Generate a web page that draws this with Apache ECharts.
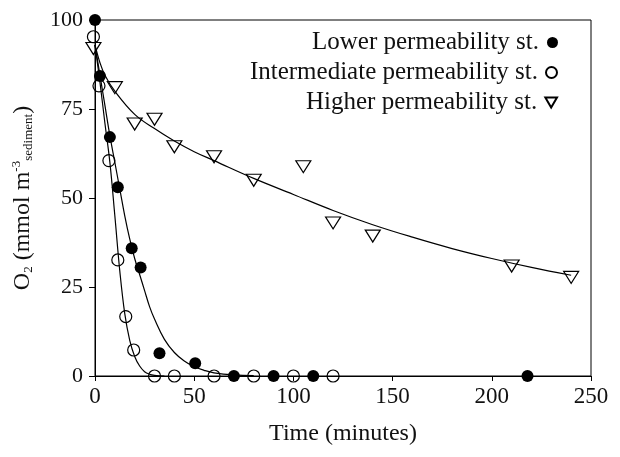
<!DOCTYPE html>
<html>
<head>
<meta charset="utf-8">
<script src="https://cdn.jsdelivr.net/npm/echarts@6/dist/echarts.min.js"></script>
<style>
  html, body { margin: 0; padding: 0; background: #fff; }
  #chart { width: 620px; height: 457px; }
</style>
</head>
<body>
<div id="chart"></div>
<script>
// measured points
const lowerT = [0, 2.5, 7.5, 11.5, 18.5, 23, 32.5, 50.5, 70, 90, 110, 218];
const lowerO2 = [100, 84.3, 67.1, 53, 35.9, 30.5, 6.4, 3.6, 0, 0, 0, 0];
const interT = [-0.8, 2, 7, 11.5, 15.5, 19.5, 30, 40, 60, 80, 100, 120];
const interO2 = [95.3, 81.5, 60.5, 32.6, 16.7, 7.3, 0, 0, 0, 0, 0, 0];
const higherT = [-0.8, 10, 20, 30, 40, 60, 80, 105, 120, 140, 210, 240];
const higherO2 = [92, 81, 70.8, 72.1, 64.4, 61.6, 55, 58.8, 43, 39.3, 30.9, 27.7];

// fitted curves
const fitLowerT = [0, 2.5, 5, 7.5, 10, 12.5, 15, 17.5, 20, 22.5, 25, 27.5, 30, 35, 40, 45, 50, 55, 60, 70, 80];
const fitLowerO2 = [93, 84.5, 76, 67.5, 60, 52.5, 45, 38.5, 33, 28.5, 24, 19.5, 16, 10.3, 6.6, 4.2, 2.6, 1.6, 0.9, 0.3, 0.1];
const fitInterT = [0, 2.5, 5, 7.5, 10, 12.5, 15, 17.5, 20, 22.5, 25, 27.5, 30, 35];
const fitInterO2 = [93, 82.5, 71, 60, 45, 29.5, 17.5, 10, 5.5, 2.8, 1.2, 0.5, 0.2, 0];
const fitHigherT = [0, 2.5, 5, 10, 20, 30, 40, 50, 60, 80, 100, 120, 140, 160, 180, 200, 220, 240];
const fitHigherO2 = [93, 88, 84.5, 80, 73.5, 69.5, 66, 63, 60.5, 55.5, 51, 46.5, 42.5, 39, 35.8, 33, 30.5, 28.3];

const names = ['Lower permeability st.', 'Intermediate permeability st.', 'Higher permeability st.'];
const triPath = 'path://M0,0 L14,0 L7,12 Z';
const font = 'Liberation Serif';

function pairs(xs, ys) {
  return xs.map(function (x, i) { return [x, ys[i]]; });
}

function fitLine(xs, ys) {
  return {
    type: 'line',
    data: pairs(xs, ys),
    showSymbol: false,
    smooth: 0.4,
    lineStyle: { color: '#000', width: 1.2 },
    silent: true,
    z: 1
  };
}

function legendFor(name, icon, top, w, h) {
  return {
    data: [{ name: name, icon: icon }],
    right: 57,
    top: top,
    align: 'right',
    itemWidth: w,
    itemHeight: h,
    textStyle: { fontFamily: font, fontSize: 25, color: '#111', padding: [0, 3, 0, 0] },
    selectedMode: false
  };
}

const chart = echarts.init(document.getElementById('chart'));
chart.setOption({
  animation: false,
  grid: {
    left: 95, right: 29, top: 20, bottom: 81,
    show: true, borderColor: '#000', borderWidth: 1
  },
  legend: [
    legendFor(names[0], 'circle', 25, 11, 11),
    legendFor(names[1], 'circle', 55, 11, 11),
    legendFor(names[2], triPath, 85, 12, 10)
  ],
  xAxis: {
    type: 'value',
    min: 0, max: 250, interval: 50,
    name: 'Time (minutes)',
    nameLocation: 'middle',
    nameGap: 46,
    nameTextStyle: { fontFamily: font, fontSize: 24, color: '#111' },
    axisLine: { lineStyle: { color: '#000' } },
    axisTick: { inside: false, length: 5, lineStyle: { color: '#000' } },
    axisLabel: { fontFamily: font, fontSize: 23, color: '#111', margin: 9 },
    splitLine: { show: false }
  },
  yAxis: {
    type: 'value',
    min: 0, max: 100, interval: 25,
    name: '{n|O}{sub|2}{n| (mmol m}{sup|-3}{sub|sediment}{n|)}',
    nameLocation: 'middle',
    nameGap: 60,
    nameRotate: 90,
    nameTextStyle: {
      fontFamily: font, color: '#111',
      rich: {
        n: { fontFamily: font, fontSize: 24, color: '#111' },
        sub: { fontFamily: font, fontSize: 13, color: '#111', verticalAlign: 'bottom', padding: [12, 0, 0, 0] },
        sup: { fontFamily: font, fontSize: 13, color: '#111', verticalAlign: 'top', padding: [0, 0, 12, 0] }
      }
    },
    axisLine: { lineStyle: { color: '#000' } },
    axisTick: { inside: false, length: 6, lineStyle: { color: '#000' } },
    axisLabel: { fontFamily: font, fontSize: 22, color: '#111', margin: 12 },
    splitLine: { show: false }
  },
  series: [
    fitLine(fitLowerT, fitLowerO2),
    fitLine(fitInterT, fitInterO2),
    fitLine(fitHigherT, fitHigherO2),
    {
      name: names[0],
      type: 'scatter',
      data: pairs(lowerT, lowerO2),
      symbol: 'circle',
      symbolSize: 12,
      clip: false,
      itemStyle: { color: '#000', opacity: 1 },
      z: 3
    },
    {
      name: names[1],
      type: 'scatter',
      data: pairs(interT, interO2),
      symbol: 'circle',
      symbolSize: 12,
      clip: false,
      itemStyle: { color: 'rgba(255,255,255,0)', borderColor: '#000', borderWidth: 1.2, opacity: 1 },
      z: 3
    },
    {
      name: names[2],
      type: 'scatter',
      data: pairs(higherT, higherO2),
      symbol: triPath,
      symbolSize: [15, 12],
      clip: false,
      itemStyle: { color: 'rgba(255,255,255,0)', borderColor: '#000', borderWidth: 1.2, opacity: 1 },
      z: 3
    }
  ]
});
</script>
</body>
</html>
